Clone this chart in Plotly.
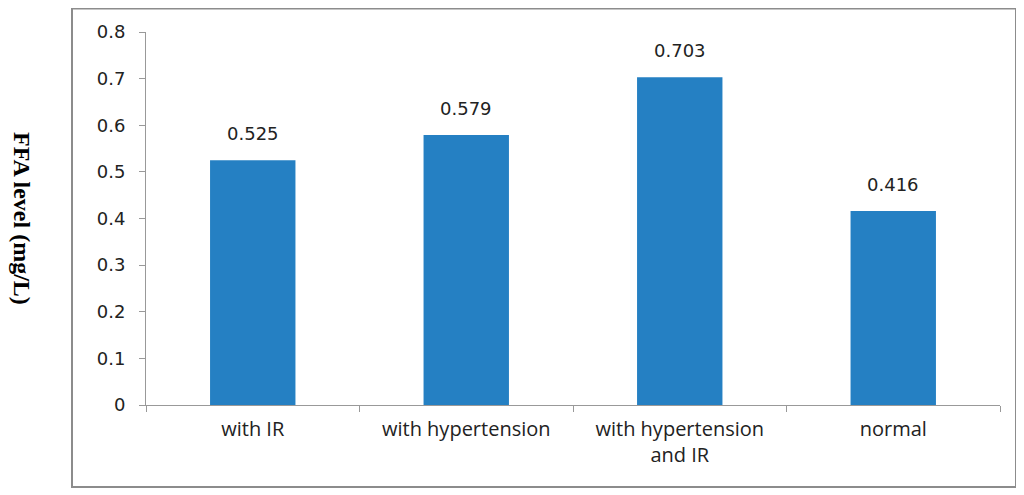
import plotly.graph_objects as go

categories = ["with IR", "with hypertension", "with hypertension<br>and IR", "normal"]
values = [0.525, 0.579, 0.703, 0.416]
value_labels = ["0.525", "0.579", "0.703", "0.416"]
y_ticks = [0, 0.1, 0.2, 0.3, 0.4, 0.5, 0.6, 0.7, 0.8]
y_tick_labels = ["0", "0.1", "0.2", "0.3", "0.4", "0.5", "0.6", "0.7", "0.8"]

# the page adds an 8px body margin, so the figure is laid out 8px up/left
OFF = 8
FW, FH = 1024 - OFF, 495 - OFF
L, R, T, B = 146 - OFF, 1000 - OFF, 32 - OFF, 405 - OFF
W, H = R - L, B - T

def px(x):
    return (x - OFF - L) / W

def py(y):
    return (B - (y - OFF)) / H

fig = go.Figure(go.Bar(
    x=categories, y=values,
    marker=dict(color="#2580C3", line=dict(width=0)),
))

label_annotations = [
    dict(x=c, y=v, text=t, showarrow=False, xref="x", yref="y",
         xanchor="center", yanchor="bottom", yshift=14,
         font=dict(family="DejaVu Sans, Verdana, sans-serif", size=18, color="#222222"))
    for c, v, t in zip(categories, values, value_labels)
]

fig.update_layout(
    width=FW, height=FH,
    margin=dict(l=L, r=FW - R, t=T, b=FH - B),
    paper_bgcolor="white", plot_bgcolor="white",
    bargap=0.6, showlegend=False,
    xaxis=dict(
        showline=True, linecolor="#999999", linewidth=1,
        ticks="outside", tickson="boundaries", ticklen=6, tickcolor="#999999",
        tickfont=dict(family="Open Sans, Lato, sans-serif", size=20, color="#222222"),
        ticklabelstandoff=6,
        showgrid=False,
    ),
    yaxis=dict(
        range=[0, 0.8], tickvals=y_ticks, ticktext=y_tick_labels,
        showline=True, linecolor="#999999", linewidth=1,
        ticks="outside", ticklen=6, tickcolor="#999999",
        tickfont=dict(family="DejaVu Sans, Verdana, sans-serif", size=18, color="#222222"),
        ticklabelstandoff=10,
        showgrid=False, zeroline=False,
    ),
    shapes=[dict(
        type="rect", xref="paper", yref="paper",
        x0=px(72), x1=px(1016), y0=py(487), y1=py(8.5),
        line=dict(color="#8c8c8c", width=2), fillcolor="rgba(0,0,0,0)", layer="below",
    )],
    annotations=label_annotations + [dict(
        text="<b>FFA level (mg/L)</b>", xref="paper", yref="paper",
        x=px(22), y=py(218), textangle=90, showarrow=False,
        font=dict(family="Liberation Serif, Times New Roman, serif", size=24, color="black"),
        xanchor="center", yanchor="middle",
    )],
)

fig.write_html("out.html")
